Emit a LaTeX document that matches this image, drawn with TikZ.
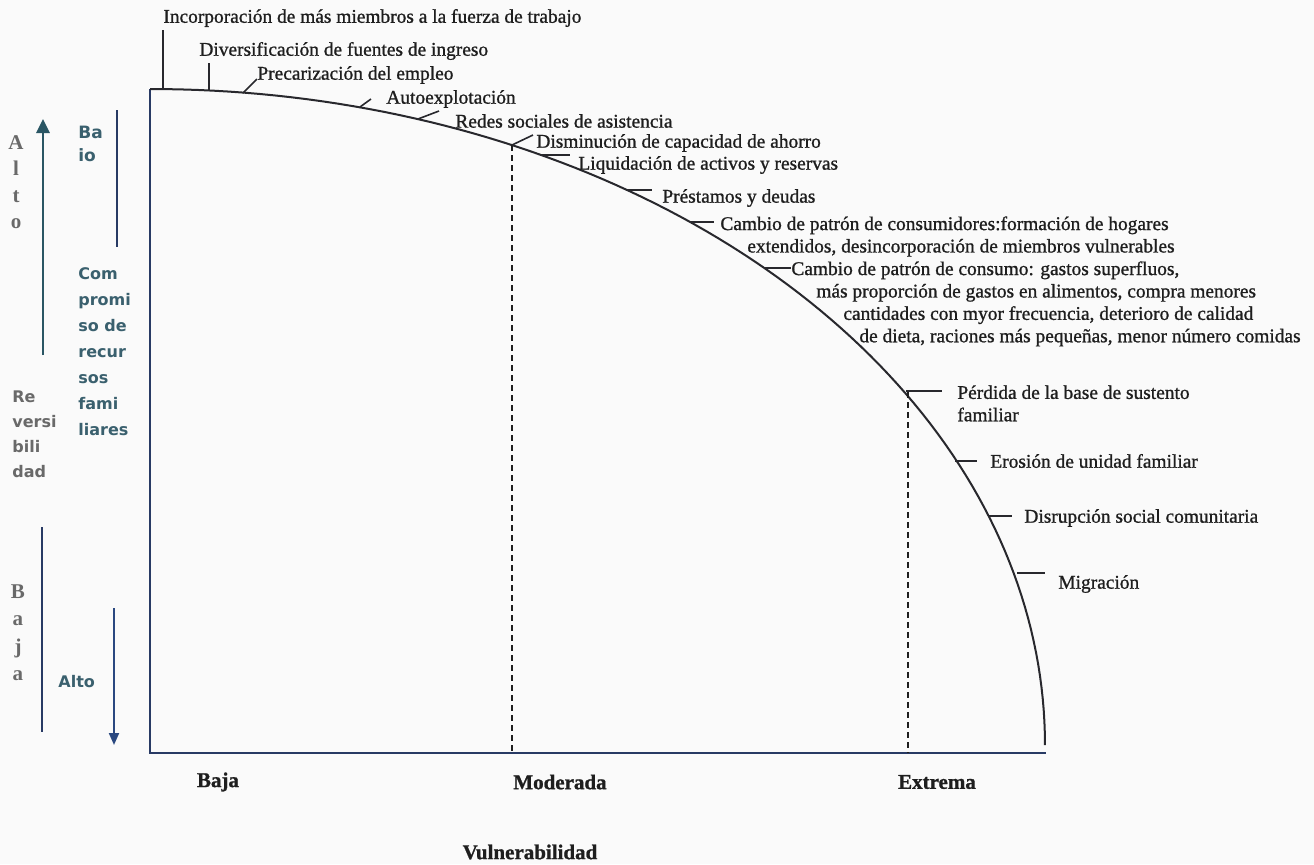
\documentclass[tikz,border=0pt]{standalone}
\usepackage{fontspec}
\setmainfont{Liberation Serif}[FakeBold=1.0]
\newfontfamily\sidefont{DejaVu Sans}
\newfontfamily\sideserif{Liberation Serif}
\usepackage{tikz}
\usetikzlibrary{arrows.meta, calc}
\definecolor{ink}{RGB}{30,30,30}
\definecolor{curveink}{RGB}{40,40,45}
\definecolor{axisnavy}{RGB}{40,58,100}
\definecolor{sideteal}{RGB}{58,96,110}
\definecolor{sidegray}{RGB}{105,105,105}
\definecolor{arrowteal}{RGB}{42,86,100}
\definecolor{arrownavy}{RGB}{42,72,128}
\definecolor{paper}{RGB}{250,250,250}

\begin{document}
\begin{tikzpicture}[
	x=0.5pt, y=-0.5pt,
	lbl/.style={anchor=west, inner sep=0pt, align=left, text=ink,
		font=\fontsize{9.7}{11.2}\selectfont},
	axlbl/.style={inner sep=0pt, text=ink, font=\fontsize{10.5}{12}\selectfont\bfseries},
	tick/.style={draw=curveink, line width=0.8pt},
	curve/.style={draw=curveink, line width=1pt},
	axis/.style={draw=axisnavy, line width=1.1pt},
	guide/.style={draw=ink, line width=0.7pt, dash pattern=on 3pt off 2pt},
	side/.style={inner sep=0pt, anchor=north west, align=left, text=sideteal,
		font=\sidefont\bfseries\fontsize{8}{13}\selectfont},
	sidegrey/.style={side, text=sidegray},
	letters/.style={sidegrey, anchor=north, align=center,
		font=\sideserif\bfseries\fontsize{10.5}{13.2}\selectfont},
	bar/.style={draw=axisnavy, line width=1.3pt},
	uparrow/.style={draw=arrowteal, line width=1.4pt, -{Triangle[length=7pt, width=6.5pt]}},
	downarrow/.style={draw=arrownavy, line width=1pt, -{Triangle[length=6pt, width=5pt]}}
	]
	
	% Page
	\fill[paper] (0,0) rectangle (1314,864);
	\useasboundingbox (0,0) rectangle (1314,864);
	
	% Axes
	\coordinate (top)    at (150,89);
	\coordinate (origin) at (150,753);
	\coordinate (xend)   at (1046,753);
	\draw[axis] (top) -- (origin) -- (xend);
	
	% Curve
	\draw[curve] plot[domain=-90:0, samples=90] ({150+895*cos(\x)}, {745+656*sin(\x)});
	
	% Dashed separators
	\coordinate (modtop) at (512,145);
	\coordinate (modbot) at (512,753);
	\coordinate (exttop) at (908,392);
	\coordinate (extbot) at (908,753);
	\draw[guide] (modtop) -- (modbot);
	\draw[guide] (exttop) -- (extbot);
	
	% Strategy labels
	\node[lbl] (inc)   at (163,18)  {Incorporación de más miembros a la fuerza de trabajo};
	\node[lbl] (div)   at (199,51)  {Diversificación de fuentes de ingreso};
	\node[lbl] (prec)  at (257,75)  {Precarización del empleo};
	\node[lbl] (auto)  at (386,99)  {Autoexplotación};
	\node[lbl] (redes) at (455,121) {Redes sociales de asistencia};
	\node[lbl] (dism)  at (536,143) {Disminución de capacidad de ahorro};
	\node[lbl] (liq)   at (578,165) {Liquidación de activos y reservas};
	\node[lbl] (prest) at (662,198) {Préstamos y deudas};
	\node[lbl, anchor=north west] (hog) at (720,216)
	{Cambio de patrón de consumidores:formación de hogares\\
		\hspace*{13.5pt}extendidos, desincorporación de miembros vulnerables};
	\node[lbl, anchor=north west] (cons) at (791,261)
	{Cambio de patrón de consumo: gastos superfluos,\\
		\hspace*{12.5pt}más proporción de gastos en alimentos, compra menores\\
		\hspace*{26pt}cantidades con myor frecuencia, deterioro de calidad\\
		\hspace*{34pt}de dieta, raciones más pequeñas, menor número comidas};
	\node[lbl, anchor=north west] (perd) at (957,385) {Pérdida de la base de sustento\\familiar};
	\node[lbl] (eros)  at (990,461) {Erosión de unidad familiar};
	\node[lbl] (disr)  at (1024,518) {Disrupción social comunitaria};
	\node[lbl] (migr)  at (1058,584) {Migración};
	
	% Ticks on the curve
	\coordinate (inc0) at (163,89);   \coordinate (inc1) at (163,30);
	\coordinate (div0) at (209,90);   \coordinate (div1) at (209,63);
	\coordinate (prec0) at (243,93);  \coordinate (prec1) at (257,79);
	\coordinate (auto0) at (360,107); \coordinate (auto1) at (371,99);
	\coordinate (redes0) at (418,119); \coordinate (redes1) at (439,111);
	\coordinate (dism0) at (512,145); \coordinate (dism1) at (533,135);
	\coordinate (liq0) at (541,155);  \coordinate (liq1) at (570,155);
	\coordinate (prest0) at (627,190); \coordinate (prest1) at (652,190);
	\coordinate (hog0) at (690,222);  \coordinate (hog1) at (714,222);
	\coordinate (cons0) at (765,268); \coordinate (cons1) at (791,268);
	\coordinate (perd0) at (906,391); \coordinate (perd1) at (942,391);
	\coordinate (eros0) at (955,461); \coordinate (eros1) at (977,461);
	\coordinate (disr0) at (988,516); \coordinate (disr1) at (1012,516);
	\coordinate (migr0) at (1017,573); \coordinate (migr1) at (1045,573);
	\foreach \t in {inc, div, prec, auto, redes, dism, liq, prest, hog, cons, perd, eros, disr, migr}
	\draw[tick] (\t0) -- (\t1);
	
	% Axis labels
	\node[axlbl] (baja) at (218,782) {Baja};
	\node[axlbl] (mod)  at (560,782) {Moderada};
	\node[axlbl] (ext)  at (937,782) {Extrema};
	\node[axlbl] (vuln) at (530,852) {Vulnerabilidad};
	
	% Left scale
	\coordinate (upfoot) at (43,355);  \coordinate (uptip) at (43,119);
	\coordinate (bar1a) at (117,110);  \coordinate (bar1b) at (117,247);
	\coordinate (bar2a) at (42,527);   \coordinate (bar2b) at (42,732);
	\coordinate (dnfoot) at (114,608); \coordinate (dntip) at (114,745);
	\draw[uparrow] (upfoot) -- (uptip);
	\draw[bar] (bar1a) -- (bar1b);
	\draw[bar] (bar2a) -- (bar2b);
	\draw[downarrow] (dnfoot) -- (dntip);
	
	\node[letters] (altoup) at (16,135) {A\\l\\t\\o};
	\node[side, font=\sidefont\bfseries\fontsize{8.5}{11.5}\selectfont] (bajo) at (78,126) {Ba\\io};
	\node[side] (comp) at (78,267) {Com\\promi\\so de\\recur\\sos\\fami\\liares};
	\node[sidegrey, font=\sidefont\bfseries\fontsize{8}{12.5}\selectfont] (rev) at (12,390) {Re\\versi\\bili\\dad};
	\node[letters, font=\sideserif\bfseries\fontsize{10.5}{13.8}\selectfont] (bajad) at (18,584) {B\\a\\j\\a};
	\node[side, anchor=west] (altodn) at (58,682) {Alto};
	
\end{tikzpicture}
\end{document}
